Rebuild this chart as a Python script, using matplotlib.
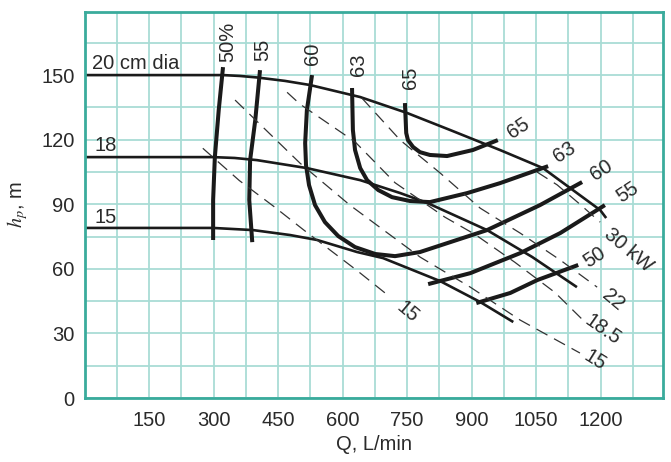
import numpy as np
import matplotlib.pyplot as plt

plt.rcParams['font.family'] = ['Liberation Sans', 'DejaVu Sans']
plt.rcParams['mathtext.fontset'] = 'stix'

# head curves (impeller diameter), Q in L/min, h in m
q_20 = [0, 322, 361, 401, 466, 524, 641, 750, 850, 966, 1066, 1199, 1213]
h_20 = [150, 150, 149.6, 148.9, 147.3, 145.4, 139.8, 132.4, 124.5, 115.2, 106.8, 87.3, 83.6]
q_18 = [0, 299, 349, 401, 517, 641, 734, 797, 936, 1041, 1145]
h_18 = [111.9, 111.9, 111.5, 110.5, 106.8, 101.2, 95.2, 90.6, 78.0, 65.5, 51.5]
q_15 = [0, 299, 392, 478, 541, 634, 694, 827, 920, 997]
h_15 = [79.0, 79.0, 78.0, 75.7, 73.4, 67.8, 65.0, 54.3, 44.6, 35.3]

# efficiency curves
q_e50 = [322, 312, 303, 299, 299]
h_e50 = [153.7, 133.7, 111.9, 92, 73.4]
q_e55 = [408, 397, 385, 383, 390]
h_e55 = [152.3, 129.1, 110.5, 92, 72.4]
q_e60 = [529, 517, 513, 515, 522, 536, 559, 590, 629, 676, 722, 780, 936, 1059, 1157]
h_e60 = [150.0, 133.7, 118.4, 108.2, 98.9, 89.6, 81.7, 75.2, 70.1, 66.9, 65.9, 67.8, 78.0, 89.6, 100.3]
q_e63 = [622, 624, 629, 641, 657, 683, 715, 757, 803, 890, 966, 1078]
h_e63 = [144.0, 124.5, 115.2, 106.8, 101.2, 96.6, 93.3, 91.5, 91.0, 95.2, 99.8, 107.7]
q_e65 = [745, 748, 752, 764, 780, 803, 843, 903, 961]
h_e65 = [137.0, 123.1, 119.8, 116.6, 114.2, 112.9, 112.4, 115.2, 119.8]
q_e55b = [799, 897, 1013, 1106, 1210]
h_e55b = [52.9, 58.0, 67.3, 76.6, 89.6]
q_e50b = [911, 990, 1053, 1148]
h_e50b = [44.1, 48.8, 54.8, 61.8]

# power lines (kW)
q_p15a = [275, 360, 440, 510, 635, 710]
h_p15a = [116, 101, 89, 78, 59, 47]
q_p15 = [350, 501, 617, 780, 897, 1013, 1152]
h_p15 = [138.4, 109.1, 89.6, 65.5, 51.5, 36.2, 20.9]
q_p18 = [471, 501, 629, 722, 838, 908, 1001, 1094, 1159]
h_p18 = [142.0, 136.5, 119.0, 100.0, 84.0, 76.0, 63.0, 49.0, 36.2]
q_p22 = [645, 734, 827, 920, 1013, 1106, 1192]
h_p22 = [139.3, 119.8, 104.5, 88.2, 76.6, 64.1, 51.5]
q_p30 = [1052, 1099, 1152, 1199]
h_p30 = [105.0, 99.0, 90.0, 81.7]

fig = plt.figure(figsize=(6.71, 4.62), dpi=100)
ax = fig.add_axes([0.126, 0.1385, 0.862, 0.8355])

teal = '#3aab9c'
light = '#a9dcd5'

ax.set_xlim(0, 1345)
ax.set_ylim(0, 179.3)
ax.set_xticks([150, 300, 450, 600, 750, 900, 1050, 1200])
ax.set_xticks(np.arange(75, 1345, 75), minor=True)
ax.set_yticks([0, 30, 60, 90, 120, 150])
ax.set_yticks(np.arange(15, 180, 15), minor=True)
ax.grid(which='both', color=light, linewidth=1.3)
ax.set_axisbelow(True)
ax.tick_params(which='both', length=0, labelsize=14.5, colors='#2a2a2a')
ax.tick_params(axis='x', pad=9)
ax.tick_params(axis='y', pad=7)
for s in ax.spines.values():
    s.set_color(teal)
    s.set_linewidth(2)

k = '#1a1a1a'
for q, h in [(q_20, h_20), (q_18, h_18), (q_15, h_15)]:
    ax.plot(q, h, color=k, lw=1.9, solid_capstyle='butt', solid_joinstyle='round')
for q, h in [(q_e50, h_e50), (q_e55, h_e55), (q_e60, h_e60), (q_e63, h_e63),
             (q_e65, h_e65), (q_e55b, h_e55b), (q_e50b, h_e50b)]:
    ax.plot(q, h, color=k, lw=2.9, solid_capstyle='butt', solid_joinstyle='round')
for q, h in [(q_p15a, h_p15a), (q_p15, h_p15), (q_p18, h_p18), (q_p22, h_p22), (q_p30, h_p30)]:
    ax.plot(q, h, color='#333333', lw=0.9, dashes=(10, 6))

fs = 14.5
tc = '#2a2a2a'
ax.text(17, 155.6, '20 cm dia', fontsize=fs, va='center', ha='left', color=tc)
ax.text(22, 117.5, '18', fontsize=fs, va='center', ha='left', color=tc)
ax.text(22, 84, '15', fontsize=fs, va='center', ha='left', color=tc)

for q, h, t in [(334, 165.3, '50%'), (415, 161.6, '55'), (529, 159.8, '60'),
                (636, 154.7, '63'), (757, 148.6, '65')]:
    ax.text(q, h, t, fontsize=fs, rotation=90, ha='center', va='center', color=tc)

for q, h, t in [(1008, 125.4, '65'), (1117, 114.2, '63'), (1203, 105.9, '60'),
                (1262, 95.7, '55'), (1187, 65.5, '50')]:
    ax.text(q, h, t, fontsize=fs, rotation=33, ha='center', va='center', color=tc)

for q, h, t, r in [(1264, 68.7, '30 kW', -40), (1229, 45.5, '22', -40),
                   (1206, 31.6, '18.5', -35), (1187, 17.6, '15', -32),
                   (752, 40, '15', -40)]:
    ax.text(q, h, t, fontsize=fs, rotation=r, ha='center', va='center', color=tc)

ax.set_xlabel('Q, L/min', fontsize=fs, labelpad=4, color=tc)
ax.set_ylabel(r'$h_p$, m', fontsize=fs, labelpad=8, color=tc)

fig.savefig('out.png', dpi=100)
